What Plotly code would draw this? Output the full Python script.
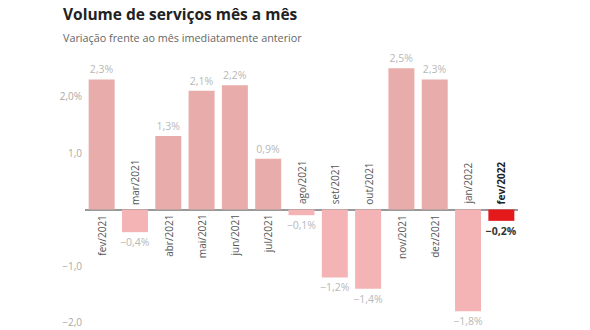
import plotly.graph_objects as go

categories = ["fev/2021", "mar/2021", "abr/2021", "mai/2021", "jun/2021", "jul/2021",
              "ago/2021", "set/2021", "out/2021", "nov/2021", "dez/2021", "jan/2022", "fev/2022"]
values = [2.3, -0.4, 1.3, 2.1, 2.2, 0.9, -0.1, -1.2, -1.4, 2.5, 2.3, -1.8, -0.2]
tick_vals = [2.0, 1.0, -1.0, -2.0]
tick_text = ["2,0%", "1,0", "\u22121,0", "\u22122,0"]

POS = "#e8adaa"
NEG = "#f4b3b5"
HL = "#e3191c"
FONT = "Open Sans"

def fmt(v):
    s = f"{abs(v):.1f}".replace(".", ",") + "%"
    return ("\u2212" + s) if v < 0 else s

n = len(values)
colors = [HL if i == n - 1 else (POS if v >= 0 else NEG) for i, v in enumerate(values)]
text_colors = ["#333333" if i == n - 1 else "#b8b8b8" for i in range(n)]
text = [("<b>" + fmt(v) + "</b>") if i == n - 1 else fmt(v) for i, v in enumerate(values)]

fig = go.Figure()
fig.add_trace(go.Bar(
    x=categories, y=values, marker=dict(color=colors, line=dict(width=0)),
    text=text, textposition="outside", constraintext="none",
    textfont=dict(family=FONT, size=10.5, color=text_colors),
    cliponaxis=False, width=0.78,
))

for i, (c, v) in enumerate(zip(categories, values)):
    label = ("<b>" + c + "</b>") if i == n - 1 else c
    fig.add_annotation(
        x=c, y=0, text=label, textangle=-90, showarrow=False,
        xanchor="center", yanchor="top" if v >= 0 else "bottom",
        yshift=-3 if v >= 0 else 3,
        font=dict(family=FONT, size=10, color="#222222" if i == n - 1 else "#555555"),
    )

fig.add_annotation(text="<b>Volume de serviços mês a mês</b>", xref="paper", yref="paper",
                   x=-0.055, y=1, yshift=31, xanchor="left", yanchor="middle", showarrow=False,
                   font=dict(family=FONT, size=15.5, color="#222222"))
fig.add_annotation(text="Variação frente ao mês imediatamente anterior", xref="paper", yref="paper",
                   x=-0.055, y=1, yshift=8, xanchor="left", yanchor="middle", showarrow=False,
                   font=dict(family=FONT, size=10.8, color="#666666"))

fig.update_layout(
    width=590, height=330, margin=dict(l=85, r=72, t=45, b=0),
    paper_bgcolor="white", plot_bgcolor="white", showlegend=False,
    bargap=0.22,
    xaxis=dict(showticklabels=False, showgrid=False, zeroline=False, showline=False, ticks=""),
    yaxis=dict(range=[-2.13, 2.91], tickvals=tick_vals, ticktext=tick_text, showgrid=False,
               zeroline=True, zerolinecolor="#999999", zerolinewidth=1.5, showline=False,
               tickfont=dict(family=FONT, size=10, color="#aaaaaa"), ticks="", ticklabelstandoff=2),
)

fig.write_html("out.html")
